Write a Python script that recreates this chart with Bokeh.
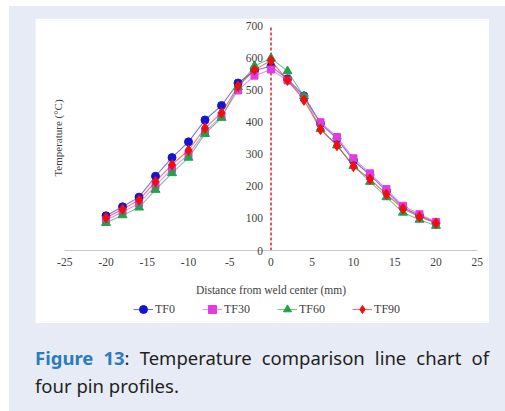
from bokeh.plotting import figure
from bokeh.models import (LinearAxis, FixedTicker, Legend, LegendItem, Div, Range1d)
from bokeh.layouts import column
from bokeh.embed import file_html
from bokeh.resources import INLINE

# ---- data ----
distance = [-20, -18, -16, -14, -12, -10, -8, -6, -4, -2, 0, 2, 4, 6, 8, 10, 12, 14, 16, 18, 20]
tf0 = [108, 136, 166, 231, 289, 338, 406, 451, 521, 560, 573, 534, 481, 395, 348, 280, 235, 185, 134, 109, 86]
tf30 = [94, 120, 146, 202, 254, 299, 369, 418, 498, 544, 563, 529, 476, 399, 353, 287, 240, 191, 139, 113, 89]
tf60 = [86, 110, 134, 189, 241, 289, 363, 413, 509, 574, 598, 558, 480, 378, 327, 263, 214, 166, 118, 96, 77]
tf90 = [102, 128, 157, 214, 267, 312, 381, 428, 511, 562, 591, 530, 468, 377, 327, 262, 222, 175, 130, 105, 85]
series_names = ["TF0", "TF30", "TF60", "TF90"]
x_ticks = [-25, -20, -15, -10, -5, 0, 5, 10, 15, 20, 25]
x_tick_labels = ["-25", "-20", "-15", "-10", "-5", "0", "5", "10", "15", "20", "25"]
y_ticks = [0, 100, 200, 300, 400, 500, 600, 700]
y_tick_labels = ["0", "100", "200", "300", "400", "500", "600", "700"]
x_title = "Distance from weld center (mm)"
y_title = "Temperature (\u00b0C)"
caption_head = "Figure 13"
caption_rest1 = ": Temperature comparison line chart of"
caption_rest2 = "four pin profiles."

LAV = "#e7ebf6"
SERIF = "Liberation Serif"
TXT = "#404040"

# frame covers the whole white panel so that fixed axes, labels and legend are not clipped
p = figure(width=454, height=305, x_range=Range1d(-28.55, 26.49), y_range=Range1d(-220.9, 715.6),
           output_backend="svg", toolbar_location=None, title=None,
           min_border_left=0, min_border_right=0, min_border_top=2, min_border_bottom=2)
p.grid.visible = False
p.outline_line_color = None
p.background_fill_color = "white"
p.border_fill_color = "white"

xa = p.xaxis[0]
xa.fixed_location = 0
xa.bounds = (x_ticks[0], x_ticks[-1])
xa.ticker = FixedTicker(ticks=x_ticks)
xa.major_label_overrides = dict(zip(x_ticks, x_tick_labels))
xa.axis_line_color = "#c8c8c8"
xa.major_tick_line_color = None
xa.minor_tick_line_color = None
xa.major_tick_out = 0
xa.major_tick_in = 0
xa.major_label_standoff = 7
xa.major_label_text_font = SERIF
xa.major_label_text_font_size = "11.5px"
xa.major_label_text_color = TXT
xa.axis_label = x_title
xa.axis_label_standoff = 15
xa.axis_label_text_font = SERIF
xa.axis_label_text_font_size = "11.5px"
xa.axis_label_text_font_style = "normal"
xa.axis_label_text_color = TXT

ya = p.yaxis[0]
ya.fixed_location = 0
ya.ticker = FixedTicker(ticks=y_ticks)
ya.major_label_overrides = dict(zip(y_ticks, y_tick_labels))
ya.axis_line_color = None
ya.major_tick_line_color = None
ya.minor_tick_line_color = None
ya.major_tick_out = 0
ya.major_tick_in = 0
ya.major_label_standoff = 8
ya.major_label_text_font = SERIF
ya.major_label_text_font_size = "11.5px"
ya.major_label_text_color = TXT

lab = LinearAxis(ticker=FixedTicker(ticks=[]), axis_label=y_title,
                 fixed_location=x_ticks[0], bounds=(y_ticks[0], y_ticks[-1]),
                 axis_line_color=None, major_tick_line_color=None, minor_tick_line_color=None,
                 major_tick_out=0, minor_tick_out=0, major_label_standoff=0,
                 axis_label_standoff=1, axis_label_text_font=SERIF,
                 axis_label_text_font_size="11px", axis_label_text_font_style="normal",
                 axis_label_text_color=TXT)
p.add_layout(lab, "left")

# red dashed weld-centre line from 0 to the top tick
p.segment(x0=[0], y0=[y_ticks[0]], x1=[0], y1=[y_ticks[-1]], line_color="#e05a5a",
          line_width=2, line_dash="3 2")

styles = [
    (tf0, "circle", 8, "#1414d4"),
    (tf30, "square", 7, "#e23be2"),
    (tf60, "triangle", 9, "#1ea34c"),
    (tf90, "diamond", 10.5, "#f20d0d"),
]
items = []
for name, (vals, marker, size, color) in zip(series_names, styles):
    lr = p.line(distance, vals, line_color=color, line_width=1.1, line_alpha=0.6)
    sr = p.scatter(distance, vals, marker=marker, size=size,
                   fill_color=color, line_color=color)
    items.append(LegendItem(label=name, renderers=[lr, sr]))

legend = Legend(items=items, orientation="horizontal", location=(98, 2),
                border_line_color=None, background_fill_alpha=0, padding=0, margin=0,
                spacing=27, glyph_width=20, glyph_height=20, label_standoff=2,
                label_height=12, label_text_font=SERIF, label_text_font_size="12px",
                label_text_color=TXT)
p.add_layout(legend)
p.margin = (12, 0, 0, 26)

cap_html = (
    '<div style="width:454px;font-family:\'Noto Sans\';font-size:18.5px;line-height:28px;color:#231f20;">'
    '<div style="width:454px;text-align:justify;text-align-last:justify;">'
    '<span style="color:#2c7bbf;font-weight:bold;">' + caption_head + '</span>' + caption_rest1 +
    '</div><div>' + caption_rest2 + '</div></div>'
)
cap = Div(text=cap_html, width=454, margin=(21, 0, 0, 26))

lay = column(p, cap, margin=(6, 0, 0, 9), width=496, height=405,
             styles={"background-color": LAV})

open("out.html", "w").write(file_html(lay, INLINE))
